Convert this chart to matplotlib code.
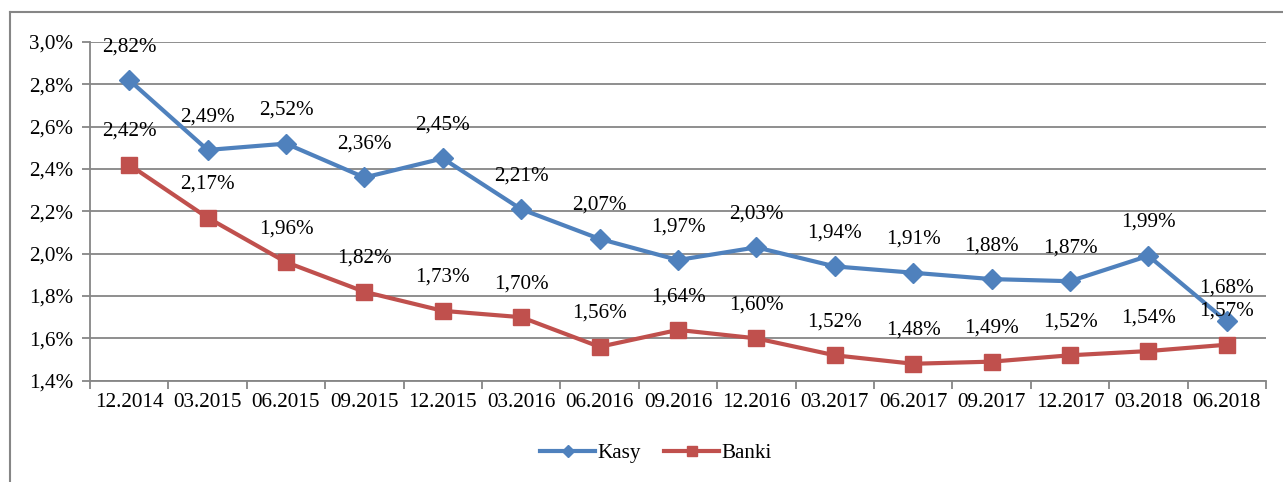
import matplotlib
matplotlib.use("Agg")
import matplotlib.pyplot as plt
from matplotlib.lines import Line2D
import numpy as np

# ── data ─────────────────────────────────────────────────────────────────────
quarters = ["12.2014", "03.2015", "06.2015", "09.2015", "12.2015", "03.2016",
            "06.2016", "09.2016", "12.2016", "03.2017", "06.2017", "09.2017",
            "12.2017", "03.2018", "06.2018"]
kasy = [2.82, 2.49, 2.52, 2.36, 2.45, 2.21, 2.07, 1.97, 2.03, 1.94, 1.91,
        1.88, 1.87, 1.99, 1.68]
banki = [2.42, 2.17, 1.96, 1.82, 1.73, 1.70, 1.56, 1.64, 1.60, 1.52, 1.48,
         1.49, 1.52, 1.54, 1.57]
y_ticks = [1.4, 1.6, 1.8, 2.0, 2.2, 2.4, 2.6, 2.8, 3.0]

BLUE = "#4F81BD"
RED = "#C0504D"
GRID = "#868686"
FS = 15.2

plt.rcParams["font.family"] = ["Liberation Serif", "DejaVu Serif"]

W, H = 1283, 482
fig = plt.figure(figsize=(W / 100, H / 100), dpi=100)
ax = fig.add_axes([90 / W, 1 - 380.7 / H, 1176 / W, (380.7 - 42) / H])

x = np.arange(len(quarters))
ax.plot(x, kasy, color=BLUE, lw=3, marker="D", ms=10, mec=BLUE, label="Kasy",
        zorder=3, solid_joinstyle="round")
ax.plot(x, banki, color=RED, lw=3, marker="s", ms=12, mec=RED, label="Banki",
        zorder=3, solid_joinstyle="round")

fmt = lambda v: f"{v:.2f}%".replace(".", ",")
for series in (kasy, banki):
    for xi, v in zip(x, series):
        ax.annotate(fmt(v), (xi, v), xytext=(0, 24), textcoords="offset points",
                    ha="center", va="center", fontsize=FS, zorder=4)

ax.set_xlim(-0.5, len(quarters) - 0.5)
ax.set_ylim(1.4, 3.0)
ax.set_yticks(y_ticks)
ax.set_yticklabels([f"{v:.1f}%".replace(".", ",") for v in y_ticks], fontsize=FS)
ax.set_xticks(x)
ax.set_xticklabels(quarters, fontsize=FS)
ax.set_xticks(np.arange(-0.5, len(quarters)), minor=True)
ax.tick_params(axis="x", which="major", length=0, pad=9)
ax.tick_params(axis="x", which="minor", length=6, color=GRID, width=1.3)
ax.tick_params(axis="y", length=6, color=GRID, width=1.3, pad=6)
ax.yaxis.grid(True, color=GRID, lw=1.3)
ax.set_axisbelow(True)
for s in ("top", "right"):
    ax.spines[s].set_visible(False)
for s in ("left", "bottom"):
    ax.spines[s].set_color(GRID)
    ax.spines[s].set_linewidth(1.3)

ax.legend(loc="center", bbox_to_anchor=(656 / W, 1 - 453 / H),
          bbox_transform=fig.transFigure, ncol=2, frameon=False, fontsize=FS,
          handlelength=2.6, handletextpad=0.1, columnspacing=1.1, markerscale=0.6)

# chart border (only top and left edges are visible in the crop)
fig.add_artist(Line2D([10 / W, 10 / W], [1 - 12 / H, 0], transform=fig.transFigure,
                      color=GRID, lw=1.5))
fig.add_artist(Line2D([10 / W, 1], [1 - 12 / H, 1 - 12 / H], transform=fig.transFigure,
                      color=GRID, lw=1.5))

fig.savefig("out.png", dpi=100)
